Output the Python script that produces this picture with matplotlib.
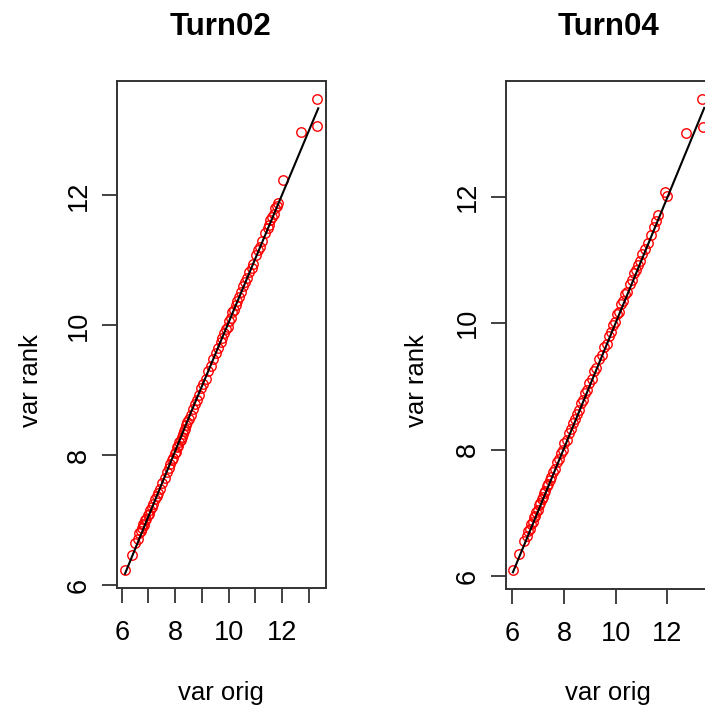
import matplotlib
matplotlib.use("Agg")
import matplotlib.pyplot as plt
from matplotlib import font_manager

names = {f.name for f in font_manager.fontManager.ttflist}
BASE = "Liberation Sans" if "Liberation Sans" in names else "DejaVu Sans"
NARROW = "Liberation Sans Narrow" if "Liberation Sans Narrow" in names else BASE

# ---------------- data ----------------
titles = ["Turn02", "Turn04"]
x_label = "var orig"
y_label = "var rank"
y_ticks = [6, 8, 10, 12]

left_x = [6.12, 6.37, 6.50, 6.60, 6.66, 6.71, 6.76, 6.80, 6.84, 6.88,
          6.92, 6.97, 7.02, 7.07, 7.12, 7.18, 7.25, 7.31, 7.37, 7.44,
          7.52, 7.60, 7.68, 7.75, 7.82, 7.88, 7.93, 7.98, 8.03, 8.08,
          8.12, 8.16, 8.20, 8.24, 8.28, 8.32, 8.36, 8.41, 8.46, 8.52,
          8.58, 8.66, 8.74, 8.82, 8.90, 8.98, 9.06, 9.15, 9.24, 9.33,
          9.43, 9.53, 9.62, 9.70, 9.77, 9.84, 9.90, 9.96, 10.02, 10.08,
          10.14, 10.20, 10.26, 10.33, 10.40, 10.47, 10.55, 10.63, 10.70, 10.78,
          10.86, 10.93, 11.02, 11.12, 11.17, 11.27, 11.38, 11.46, 11.52, 11.57,
          11.63, 11.69, 11.75, 11.80, 11.85, 12.04, 12.72, 13.30, 13.30]
left_y = [6.24, 6.47, 6.65, 6.72, 6.80, 6.83, 6.88, 6.95, 6.93, 7.00,
          7.02, 7.08, 7.10, 7.16, 7.20, 7.25, 7.33, 7.38, 7.42, 7.48,
          7.57, 7.66, 7.74, 7.80, 7.86, 7.93, 7.96, 8.03, 8.06, 8.13,
          8.15, 8.21, 8.24, 8.29, 8.33, 8.38, 8.41, 8.47, 8.51, 8.56,
          8.62, 8.71, 8.79, 8.86, 8.93, 9.03, 9.10, 9.18, 9.30, 9.37,
          9.48, 9.58, 9.66, 9.75, 9.80, 9.88, 9.95, 9.98, 10.07, 10.12,
          10.20, 10.24, 10.31, 10.38, 10.43, 10.52, 10.60, 10.67, 10.73, 10.82,
          10.88, 10.95, 11.08, 11.16, 11.20, 11.30, 11.42, 11.50, 11.55, 11.62,
          11.67, 11.72, 11.80, 11.83, 11.88, 12.24, 12.97, 13.48, 13.06]
left_line_x = [6.12, 8.68, 13.36]
left_line_y = [6.18, 8.75, 13.34]

right_x = [6.02, 6.26, 6.45, 6.55, 6.62, 6.68, 6.73, 6.78, 6.83, 6.88,
           6.93, 6.98, 7.03, 7.08, 7.13, 7.18, 7.23, 7.28, 7.33, 7.38,
           7.44, 7.50, 7.57, 7.64, 7.72, 7.80, 7.88, 7.95, 8.02, 8.10,
           8.18, 8.26, 8.34, 8.42, 8.50, 8.58, 8.66, 8.74, 8.82, 8.90,
           8.98, 9.07, 9.16, 9.26, 9.36, 9.46, 9.56, 9.65, 9.73, 9.82,
           9.90, 9.98, 10.06, 10.14, 10.22, 10.30, 10.38, 10.46, 10.55, 10.64,
           10.72, 10.80, 10.86, 10.94, 11.04, 11.14, 11.25, 11.36, 11.50, 11.58,
           11.64, 11.92, 11.98, 12.72, 13.34, 13.39]
right_y = [6.10, 6.35, 6.55, 6.63, 6.72, 6.75, 6.83, 6.86, 6.93, 6.95,
           7.02, 7.05, 7.12, 7.15, 7.22, 7.25, 7.32, 7.34, 7.42, 7.45,
           7.52, 7.56, 7.64, 7.70, 7.80, 7.86, 7.95, 8.00, 8.10, 8.16,
           8.26, 8.32, 8.42, 8.48, 8.57, 8.63, 8.74, 8.78, 8.90, 8.95,
           9.06, 9.12, 9.24, 9.30, 9.44, 9.50, 9.63, 9.68, 9.80, 9.86,
           9.97, 10.02, 10.14, 10.18, 10.30, 10.35, 10.46, 10.50, 10.63, 10.68,
           10.80, 10.84, 10.93, 10.98, 11.09, 11.18, 11.27, 11.40, 11.52, 11.62,
           11.72, 12.08, 12.02, 13.01, 13.55, 13.11]
right_line_x = [6.02, 13.44]
right_line_y = [6.06, 13.41]

left_xticks = [6, 7, 8, 9, 10, 11, 12, 13]
left_xticklabels = ["6", "", "8", "", "10", "", "12", ""]
right_xticks = [6, 8, 10, 12]
right_xticklabels = ["6", "8", "10", "12"]

# ---------------- figure ----------------
W, H = 705, 715
fig = plt.figure(figsize=(W / 100, H / 100), dpi=100)

def px_axes(x0, y0, x1, y1):
    return fig.add_axes([x0 / W, (H - y1) / H, (x1 - x0) / W, (y1 - y0) / H])

panels = [
    dict(box=(117, 81, 326, 588), xlim=(5.82, 13.65), ylim=(5.96, 13.76),
         x=left_x, y=left_y, lx=left_line_x, ly=left_line_y,
         xt=left_xticks, xtl=left_xticklabels, cx=221, ylx=31, title=titles[0]),
    dict(box=(505.7, 80.7, 712, 589.3), xlim=(5.74, 13.74), ylim=(5.79, 13.84),
         x=right_x, y=right_y, lx=right_line_x, ly=right_line_y,
         xt=right_xticks, xtl=right_xticklabels, cx=608, ylx=417, title=titles[1]),
]

spine_col = "#333333"
for p in panels:
    ax = px_axes(*p["box"])
    ax.plot(p["x"], p["y"], linestyle="none", marker="o", markersize=6.8,
            markerfacecolor="none", markeredgecolor="#ff0000", markeredgewidth=1.0)
    ax.plot(p["lx"], p["ly"], color="black", linewidth=1.5)
    ax.set_xlim(*p["xlim"])
    ax.set_ylim(*p["ylim"])
    ax.set_xticks(p["xt"])
    ax.set_xticklabels(p["xtl"], fontfamily=NARROW, fontsize=19.5)
    ax.set_yticks(y_ticks)
    ax.set_yticklabels([str(v) for v in y_ticks], fontfamily=NARROW, fontsize=19.5,
                       rotation=90, va="center")
    ax.tick_params(direction="out", length=11, width=1.3, color=spine_col)
    ax.tick_params(axis="x", pad=12)
    ax.tick_params(axis="y", pad=7)
    for s in ax.spines.values():
        s.set_color(spine_col)
        s.set_linewidth(1.4)
    fig.text(p["cx"] / W, (H - 35) / H, p["title"], ha="center", va="baseline",
             fontfamily=BASE, fontweight="bold", fontsize=22.5)
    fig.text(p["cx"] / W, (H - 700) / H, x_label, ha="center", va="baseline",
             fontfamily=BASE, fontsize=18.5)
    fig.text(p["ylx"] / W, (H - 334) / H, y_label, ha="right", va="center",
             rotation=90, rotation_mode="anchor", fontfamily=BASE, fontsize=18.5)

fig.savefig("out.png", dpi=100)
